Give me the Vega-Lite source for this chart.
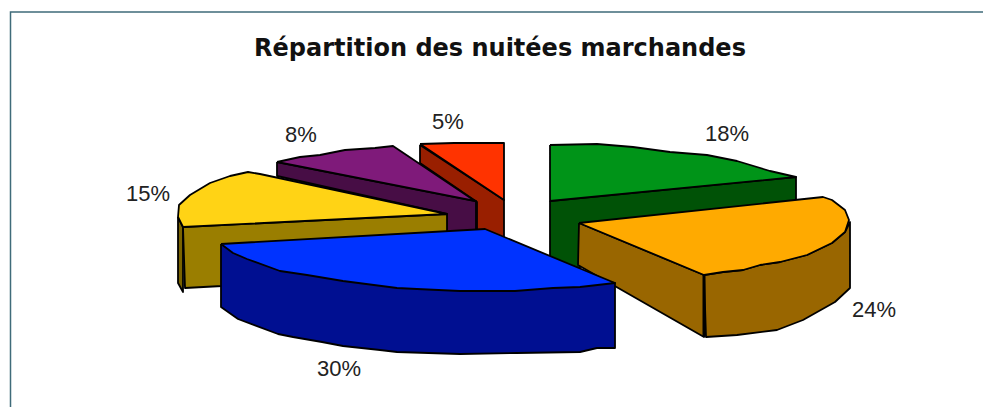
{"$schema":"https://vega.github.io/schema/vega-lite/v6.json","width":983,"height":407,"autosize":{"type":"none"},"padding":0,"background":"#ffffff","view":{"stroke":null},
"datasets":{"shapes":[
{"p":"redSide","i":1,"x":420,"y":145},{"p":"redSide","i":2,"x":420,"y":163},{"p":"redSide","i":3,"x":477,"y":202},{"p":"redSide","i":4,"x":477,"y":240},{"p":"redSide","i":5,"x":504,"y":240},{"p":"redSide","i":6,"x":504,"y":200},{"p":"redSide","i":7,"x":420,"y":145},
{"p":"redTop","i":1,"x":420,"y":144},{"p":"redTop","i":2,"x":454,"y":143},{"p":"redTop","i":3,"x":504,"y":143},{"p":"redTop","i":4,"x":504,"y":200},{"p":"redTop","i":5,"x":420,"y":144},
{"p":"purpleSide","i":1,"x":277,"y":162},{"p":"purpleSide","i":2,"x":277,"y":176},{"p":"purpleSide","i":3,"x":447,"y":214},{"p":"purpleSide","i":4,"x":447,"y":240},{"p":"purpleSide","i":5,"x":476,"y":240},{"p":"purpleSide","i":6,"x":476,"y":201},{"p":"purpleSide","i":7,"x":277,"y":162},
{"p":"purpleTop","i":1,"x":277,"y":162},{"p":"purpleTop","i":2,"x":300,"y":157},{"p":"purpleTop","i":3,"x":320,"y":155},{"p":"purpleTop","i":4,"x":345,"y":150},{"p":"purpleTop","i":5,"x":375,"y":148},{"p":"purpleTop","i":6,"x":393,"y":146},{"p":"purpleTop","i":7,"x":475,"y":201},{"p":"purpleTop","i":8,"x":277,"y":162},
{"p":"yellowSliver","i":1,"x":178,"y":217},{"p":"yellowSliver","i":2,"x":183,"y":227},{"p":"yellowSliver","i":3,"x":183,"y":292},{"p":"yellowSliver","i":4,"x":178,"y":283},{"p":"yellowSliver","i":5,"x":178,"y":217},
{"p":"yellowSide","i":1,"x":183,"y":227},{"p":"yellowSide","i":2,"x":447,"y":214},{"p":"yellowSide","i":3,"x":447,"y":245},{"p":"yellowSide","i":4,"x":222,"y":260},{"p":"yellowSide","i":5,"x":222,"y":286},{"p":"yellowSide","i":6,"x":185,"y":288},{"p":"yellowSide","i":7,"x":183,"y":227},
{"p":"yellowTop","i":1,"x":447,"y":214},{"p":"yellowTop","i":2,"x":183,"y":227},{"p":"yellowTop","i":3,"x":178,"y":217},{"p":"yellowTop","i":4,"x":179,"y":205},{"p":"yellowTop","i":5,"x":190,"y":195},{"p":"yellowTop","i":6,"x":210,"y":183},{"p":"yellowTop","i":7,"x":230,"y":176},{"p":"yellowTop","i":8,"x":248,"y":172},{"p":"yellowTop","i":9,"x":260,"y":174},{"p":"yellowTop","i":10,"x":447,"y":214},
{"p":"greenSide","i":1,"x":550,"y":201},{"p":"greenSide","i":2,"x":796,"y":177},{"p":"greenSide","i":3,"x":796,"y":215},{"p":"greenSide","i":4,"x":580,"y":240},{"p":"greenSide","i":5,"x":580,"y":268},{"p":"greenSide","i":6,"x":550,"y":260},{"p":"greenSide","i":7,"x":550,"y":201},
{"p":"greenTop","i":1,"x":550,"y":145},{"p":"greenTop","i":2,"x":597,"y":144},{"p":"greenTop","i":3,"x":633,"y":147},{"p":"greenTop","i":4,"x":670,"y":152},{"p":"greenTop","i":5,"x":707,"y":155},{"p":"greenTop","i":6,"x":737,"y":161},{"p":"greenTop","i":7,"x":770,"y":171},{"p":"greenTop","i":8,"x":796,"y":177},{"p":"greenTop","i":9,"x":550,"y":201},{"p":"greenTop","i":10,"x":550,"y":145},
{"p":"orangeSideL","i":1,"x":579,"y":223},{"p":"orangeSideL","i":2,"x":704,"y":275},{"p":"orangeSideL","i":3,"x":704,"y":337},{"p":"orangeSideL","i":4,"x":578,"y":265},{"p":"orangeSideL","i":5,"x":579,"y":223},
{"p":"orangeSideR","i":1,"x":704,"y":275},{"p":"orangeSideR","i":2,"x":723,"y":272},{"p":"orangeSideR","i":3,"x":743,"y":270},{"p":"orangeSideR","i":4,"x":760,"y":265},{"p":"orangeSideR","i":5,"x":780,"y":262},{"p":"orangeSideR","i":6,"x":807,"y":255},{"p":"orangeSideR","i":7,"x":832,"y":243},{"p":"orangeSideR","i":8,"x":845,"y":232},{"p":"orangeSideR","i":9,"x":850,"y":222},{"p":"orangeSideR","i":10,"x":850,"y":288},{"p":"orangeSideR","i":11,"x":835,"y":302},{"p":"orangeSideR","i":12,"x":803,"y":320},{"p":"orangeSideR","i":13,"x":777,"y":330},{"p":"orangeSideR","i":14,"x":737,"y":335},{"p":"orangeSideR","i":15,"x":706,"y":337},{"p":"orangeSideR","i":16,"x":704,"y":275},
{"p":"orangeTop","i":1,"x":579,"y":223},{"p":"orangeTop","i":2,"x":823,"y":197},{"p":"orangeTop","i":3,"x":832,"y":200},{"p":"orangeTop","i":4,"x":845,"y":210},{"p":"orangeTop","i":5,"x":849,"y":220},{"p":"orangeTop","i":6,"x":845,"y":232},{"p":"orangeTop","i":7,"x":832,"y":243},{"p":"orangeTop","i":8,"x":807,"y":255},{"p":"orangeTop","i":9,"x":780,"y":262},{"p":"orangeTop","i":10,"x":760,"y":265},{"p":"orangeTop","i":11,"x":743,"y":270},{"p":"orangeTop","i":12,"x":723,"y":272},{"p":"orangeTop","i":13,"x":704,"y":275},{"p":"orangeTop","i":14,"x":579,"y":223},
{"p":"blueSide","i":1,"x":221,"y":244},{"p":"blueSide","i":2,"x":615,"y":283},{"p":"blueSide","i":3,"x":615,"y":348},{"p":"blueSide","i":4,"x":597,"y":348},{"p":"blueSide","i":5,"x":580,"y":352},{"p":"blueSide","i":6,"x":517,"y":353},{"p":"blueSide","i":7,"x":460,"y":354},{"p":"blueSide","i":8,"x":397,"y":352},{"p":"blueSide","i":9,"x":380,"y":350},{"p":"blueSide","i":10,"x":343,"y":346},{"p":"blueSide","i":11,"x":322,"y":342},{"p":"blueSide","i":12,"x":293,"y":337},{"p":"blueSide","i":13,"x":278,"y":334},{"p":"blueSide","i":14,"x":238,"y":319},{"p":"blueSide","i":15,"x":221,"y":307},{"p":"blueSide","i":16,"x":221,"y":244},
{"p":"blueTop","i":1,"x":221,"y":244},{"p":"blueTop","i":2,"x":485,"y":229},{"p":"blueTop","i":3,"x":615,"y":283},{"p":"blueTop","i":4,"x":580,"y":287},{"p":"blueTop","i":5,"x":553,"y":288},{"p":"blueTop","i":6,"x":515,"y":291},{"p":"blueTop","i":7,"x":460,"y":291},{"p":"blueTop","i":8,"x":417,"y":289},{"p":"blueTop","i":9,"x":397,"y":288},{"p":"blueTop","i":10,"x":343,"y":281},{"p":"blueTop","i":11,"x":307,"y":275},{"p":"blueTop","i":12,"x":280,"y":271},{"p":"blueTop","i":13,"x":247,"y":259},{"p":"blueTop","i":14,"x":233,"y":253},{"p":"blueTop","i":15,"x":221,"y":244}
]},
"layer":[
{"data":{"values":[{"i":1,"x":10.5,"y":407},{"i":2,"x":10.5,"y":12},{"i":3,"x":983,"y":12}]},"mark":{"type":"line","stroke":"#3f6b7a","strokeWidth":1.5},"encoding":{"x":{"field":"x","type":"quantitative","scale":{"domain":[0,983]},"axis":null},"y":{"field":"y","type":"quantitative","scale":{"domain":[407,0]},"axis":null},"order":{"field":"i"}}},
{"data":{"name":"shapes"},"mark":{"type":"line","stroke":"#000000","strokeWidth":1.8,"strokeJoin":"round"},"encoding":{"x":{"field":"x","type":"quantitative","scale":{"domain":[0,983]},"axis":null},"y":{"field":"y","type":"quantitative","scale":{"domain":[407,0]},"axis":null},"order":{"field":"i"},"detail":{"field":"p"},"fill":{"field":"p","type":"nominal","legend":null,"sort":null,"scale":{"domain":["redSide","redTop","purpleSide","purpleTop","yellowSliver","yellowSide","yellowTop","greenSide","greenTop","orangeSideL","orangeSideR","orangeTop","blueSide","blueTop"],"range":["#991f00","#ff3300","#470d45","#7f1a7a","#7a6300","#9a7e00","#ffd315","#005206","#009418","#996600","#996600","#ffaa00","#000f91","#0033ff"]}}}},
{"data":{"values":[{"i":1,"x":704,"y":275},{"i":2,"x":704,"y":337}]},"mark":{"type":"line","stroke":"#000000","strokeWidth":3},"encoding":{"x":{"field":"x","type":"quantitative","scale":{"domain":[0,983]},"axis":null},"y":{"field":"y","type":"quantitative","scale":{"domain":[407,0]},"axis":null},"order":{"field":"i"}}},
{"data":{"values":[{"t":"18%","x":727,"y":134},{"t":"24%","x":874,"y":310},{"t":"30%","x":339,"y":369},{"t":"15%","x":148,"y":194},{"t":"8%","x":301,"y":135},{"t":"5%","x":448,"y":122}]},"mark":{"type":"text","font":"Liberation Sans","fontSize":22,"color":"#222222","align":"center","baseline":"middle"},"encoding":{"x":{"field":"x","type":"quantitative","scale":{"domain":[0,983]},"axis":null},"y":{"field":"y","type":"quantitative","scale":{"domain":[407,0]},"axis":null},"text":{"field":"t"}}},
{"data":{"values":[{"t":"Répartition des nuitées marchandes","x":500,"y":49}]},"mark":{"type":"text","font":"DejaVu Sans","fontSize":24,"fontWeight":"bold","color":"#111111","align":"center","baseline":"middle"},"encoding":{"x":{"field":"x","type":"quantitative","scale":{"domain":[0,983]},"axis":null},"y":{"field":"y","type":"quantitative","scale":{"domain":[407,0]},"axis":null},"text":{"field":"t"}}}
]}
